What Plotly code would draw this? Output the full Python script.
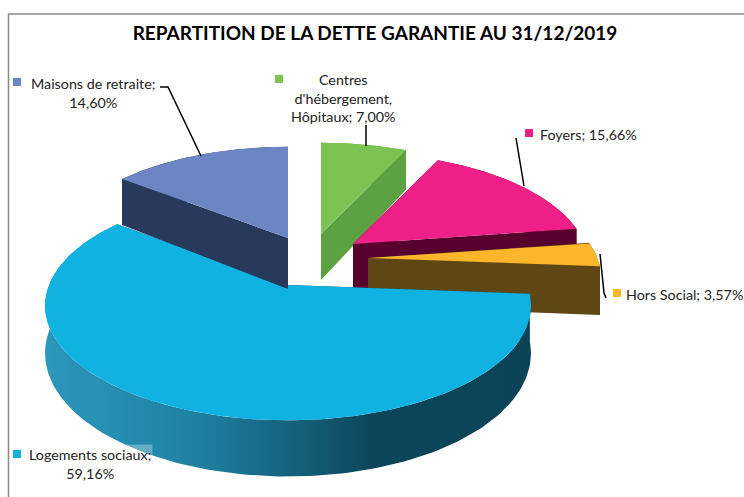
import numpy as np
import plotly.graph_objects as go

title = "REPARTITION DE LA DETTE GARANTIE AU 31/12/2019"
# clockwise from twelve o'clock
categories = ["Centres d'hébergement, Hôpitaux", "Foyers", "Hors Social", "Logements sociaux", "Maisons de retraite"]
shares = [7.00, 15.66, 3.57, 59.16, 14.60]
label_lines = [
    ["Centres", "d'hébergement,", "Hôpitaux; {v}"],
    ["Foyers; {v}"],
    ["Hors Social; {v}"],
    ["Logements sociaux;", "{v}"],
    ["Maisons de retraite;", "{v}"],
]
top_colors = ["#7dc353", "#ee2087", "#fdb52b", "#10b2e2", "#6c86c4"]
side_colors = ["#5ca243", "#58002e", "#5f4715", "#0c4357", "#273a5c"]

# styling / layout of the exploded 3-D pie, in page pixels
apex = [(321, 234), (353, 244), (368, 258), (288, 285), (288, 238)]
radius = [0.97, 0.97, 0.96, 1.0, 0.97]
depths = [46, 46, 48, 46, 51]
label_pos = [(343, 98), (588, 134), (684, 294), (90, 464), (93, 93)]
swatch_pos = [(279, 79), (529, 133), (617, 293), (17, 454), (17, 82)]
leaders = [
    ([366, 366], [125, 146]),
    ([516, 524], [138, 186]),
    ([600, 604, 606], [254, 293, 298]),
    ([], []),
    ([160, 168, 201], [87, 87, 156]),
]
RX, RY, K = 239, 111, 0.18


def pt(cx, cy, r, theta, depth):
    th = np.radians(theta)
    u, v = np.sin(th), -np.cos(th)
    s = 1 / (1 - K * v)
    return cx + r * RX * u * s, cy + r * RY * v * s, depth * s


fig = go.Figure()


def poly(x, y, color, **kw):
    fig.add_trace(go.Scatter(x=list(x), y=list(y), mode="lines", fill="toself", fillcolor=color,
                             line=dict(width=0, color=color), hoverinfo="skip", showlegend=False, **kw))


total = 0.0
scale = 360.0 / sum(shares)
for i, value in enumerate(shares):
    a0, a1 = total * scale, (total + value) * scale
    total += value
    (cx, cy), r, d = apex[i], radius[i], depths[i]
    thetas = np.linspace(a0, a1, 160)
    ax, ay, ad = pt(cx, cy, r, thetas, d)
    # cut faces
    for j in (0, -1):
        poly([cx, ax[j], ax[j], cx], [cy, ay[j], ay[j] + ad[j], cy + d], side_colors[i])
    # outer wall
    wx = np.concatenate([ax, ax[::-1]])
    wy = np.concatenate([ay, (ay + ad)[::-1]])
    if categories[i] == "Logements sociaux":
        poly(wx, wy, side_colors[i],
             fillgradient=dict(type="horizontal",
                               colorscale=[[0, "#2b98bc"], [0.3, "#1f82a4"], [0.55, "#135b75"],
                                           [0.68, "#0c4459"], [1, "#0c4357"]]))
    else:
        poly(wx, wy, side_colors[i])
    # top face
    poly(np.concatenate([[cx], ax]), np.concatenate([[cy], ay]), top_colors[i])

# leader lines
for lx, ly in leaders:
    if lx:
        fig.add_trace(go.Scatter(x=lx, y=ly, mode="lines", line=dict(color="#000000", width=1.5),
                                 hoverinfo="skip", showlegend=False))

# label swatches
fig.add_trace(go.Scatter(x=[p[0] for p in swatch_pos], y=[p[1] for p in swatch_pos], mode="markers",
                         marker=dict(symbol="square", size=8, color=top_colors, line=dict(width=0)),
                         hoverinfo="skip", showlegend=False))

for i, value in enumerate(shares):
    pct = f"{value:.2f}".replace(".", ",") + "%"
    text = "<br>".join(s.format(v=pct) for s in label_lines[i])
    fig.add_annotation(x=label_pos[i][0], y=label_pos[i][1], xref="x", yref="y", text=text, showarrow=False,
                       align="center", xanchor="center", yanchor="middle",
                       font=dict(family="Lato", size=14.3, color="#222222"),
                       bgcolor="rgba(255,255,255,0.3)" if categories[i] == "Logements sociaux" else None)

fig.update_layout(
    width=744, height=497, margin=dict(l=0, r=0, t=0, b=0),
    paper_bgcolor="#ffffff", plot_bgcolor="#ffffff", showlegend=False,
    title=dict(text=title, x=375 / 744, y=1 - 33 / 497, xanchor="center", yanchor="middle",
               font=dict(family="Lato", size=19, color="#000000", weight="bold")),
    xaxis=dict(range=[0, 744], visible=False, fixedrange=True),
    yaxis=dict(range=[497, 0], visible=False, fixedrange=True),
    shapes=[dict(type="rect", xref="x", yref="y", x0=8.5, y0=14, x1=800, y1=560,
                 line=dict(color="#8a8a8a", width=1.5), layer="below")],
)
fig.write_html("out.html", config={"displayModeBar": False},
               post_script="document.body.style.margin='0';")
